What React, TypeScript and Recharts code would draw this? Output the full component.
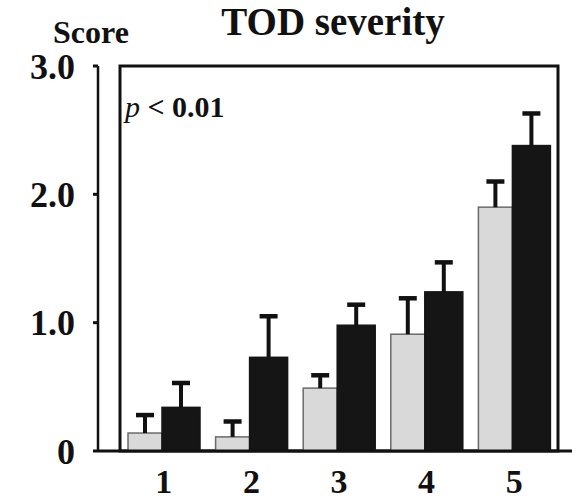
import { BarChart, Bar, XAxis, YAxis, ReferenceArea } from 'recharts';

// severity grades on the x axis
const grades = ['1', '2', '3', '4', '5'];

// light bars (mean score) and upper error lengths
const lightScore = [0.14, 0.11, 0.49, 0.91, 1.9];
const lightErr = [0.14, 0.12, 0.1, 0.28, 0.2];

// dark bars (mean score) and upper error lengths
const darkScore = [0.34, 0.73, 0.98, 1.24, 2.38];
const darkErr = [0.19, 0.32, 0.16, 0.23, 0.25];

const yTicks = [0, 1, 2, 3];

const data = grades.map((g, i) => ({
  grade: g,
  light: lightScore[i],
  dark: darkScore[i],
}));

const SERIF = '"Liberation Serif", "Times New Roman", serif';
const INK = '#111';

/**
 * Bar rect with a one-sided (upward) error whisker; length is taken from the
 * bar's own pixel/unit ratio so it follows the y scale.
 */
function barWithError(errs: number[]) {
  return (props: any) => {
    const { x, y, width, height, index, fill, stroke, value } = props;
    const v = Array.isArray(value) ? value[1] - value[0] : value;
    const k = v ? height / v : 0;
    const top = y - errs[index] * k;
    const cx = x + width / 2;
    return (
      <g>
        <rect x={x} y={y} width={width} height={height} fill={fill} stroke={stroke} strokeWidth={1.5} />
        <line x1={cx} y1={y} x2={cx} y2={top} stroke={INK} strokeWidth={4} />
        <line x1={cx - 9} y1={top} x2={cx + 9} y2={top} stroke={INK} strokeWidth={4.5} />
      </g>
    );
  };
}

export default function App() {
  return (
    <div style={{ position: 'absolute', left: 0, top: 0, background: '#fff' }}>
      <BarChart
        width={578}
        height={500}
        data={data}
        margin={{ top: 66, right: 6, bottom: 0, left: 0 }}
        barGap={0}
      >
        <XAxis
          dataKey="grade"
          padding={{ left: 22, right: 14 }}
          height={49}
          tickSize={0}
          tickMargin={18}
          axisLine={{ stroke: INK, strokeWidth: 3 }}
          tick={{ fontSize: 34, fontWeight: 'bold', fontFamily: SERIF, fill: INK }}
        />
        <YAxis
          domain={[0, 3]}
          ticks={yTicks}
          tickFormatter={(v: number) => (v === 0 ? '0' : v.toFixed(1))}
          width={98}
          tickSize={5}
          tickMargin={18}
          tickLine={{ stroke: INK, strokeWidth: 3 }}
          axisLine={{ stroke: INK, strokeWidth: 2.5 }}
          tick={{ fontSize: 36, fontWeight: 'bold', fontFamily: SERIF, fill: INK }}
        />
        <ReferenceArea y1={0} y2={3} fill="none" stroke={INK} strokeWidth={3} />
        <Bar
          dataKey="light"
          barSize={34}
          fill="#d8d9d8"
          stroke="#6a6a6a"
          shape={barWithError(lightErr)}
          isAnimationActive={false}
        />
        <Bar
          dataKey="dark"
          barSize={38}
          fill="#151515"
          stroke="#151515"
          shape={barWithError(darkErr)}
          isAnimationActive={false}
        />
        <text x={333} y={35} textAnchor="middle" fontFamily={SERIF} fontWeight="bold" fontSize={39} fill={INK}>
          TOD severity
        </text>
        <text x={53} y={43} fontFamily={SERIF} fontWeight="bold" fontSize={32} fill={INK}>
          Score
        </text>
        <text x={125} y={117} fontFamily={SERIF} fontWeight="bold" fontSize={30} fill={INK}>
          <tspan fontStyle="italic" fontWeight="normal">p</tspan>
          <tspan> &lt; 0.01</tspan>
        </text>
      </BarChart>
    </div>
  );
}
